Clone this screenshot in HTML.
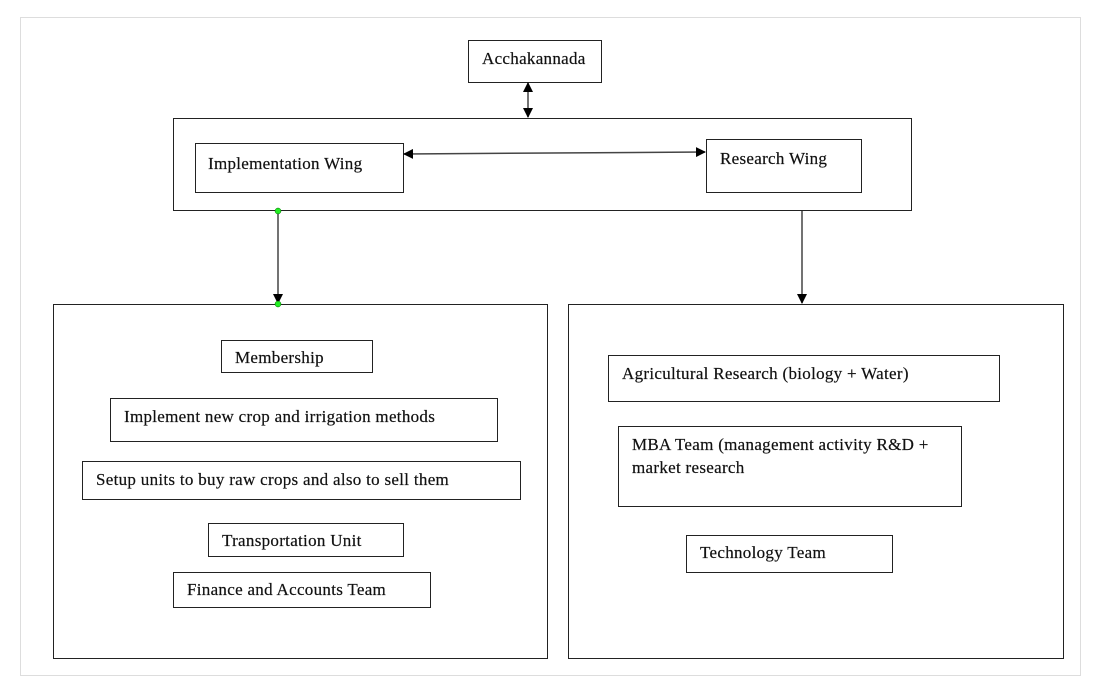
<!DOCTYPE html>
<html><head><style>body{margin:0;background:#fff}svg{display:block}text{font-family:"Liberation Serif",serif;font-size:17px;letter-spacing:0.3px;fill:#111;stroke:#111;stroke-width:0.2px}</style></head><body>
<svg width="1100" height="690" xmlns="http://www.w3.org/2000/svg">
<defs><marker id="a" markerWidth="10" markerHeight="10" refX="9" refY="5" orient="auto-start-reverse" markerUnits="userSpaceOnUse"><path d="M0,0 L10,5 L0,10z" fill="#000"/></marker></defs>
<rect x="20.5" y="17.5" width="1060" height="658" fill="none" stroke="#ddd"/>
<g fill="#fff" stroke="#222" stroke-width="1">
<rect x="468.5" y="40.5" width="133" height="42"/>
<rect x="173.5" y="118.5" width="738" height="92"/>
<rect x="195.5" y="143.5" width="208" height="49"/>
<rect x="706.5" y="139.5" width="155" height="53"/>
<rect x="53.5" y="304.5" width="494" height="354"/>
<rect x="568.5" y="304.5" width="495" height="354"/>
<rect x="221.5" y="340.5" width="151" height="32"/>
<rect x="110.5" y="398.5" width="387" height="43"/>
<rect x="82.5" y="461.5" width="438" height="38"/>
<rect x="208.5" y="523.5" width="195" height="33"/>
<rect x="173.5" y="572.5" width="257" height="35"/>
<rect x="608.5" y="355.5" width="391" height="46"/>
<rect x="618.5" y="426.5" width="343" height="80"/>
<rect x="686.5" y="535.5" width="206" height="37"/>
</g>
<g stroke="#444" stroke-width="1.5" fill="none">
<line x1="528" y1="83" x2="528" y2="117" marker-start="url(#a)" marker-end="url(#a)"/>
<line x1="404" y1="154" x2="705" y2="152" marker-start="url(#a)" marker-end="url(#a)"/>
<line x1="278" y1="211" x2="278" y2="303" marker-end="url(#a)"/>
<line x1="802" y1="211" x2="802" y2="303" marker-end="url(#a)"/>
</g>
<circle cx="278" cy="211" r="3" fill="#2e2" stroke="#060" stroke-width="0.5"/>
<circle cx="278" cy="304" r="3" fill="#2e2" stroke="#060" stroke-width="0.5"/>
<text x="482" y="64">Acchakannada</text>
<text x="208" y="169">Implementation Wing</text>
<text x="720" y="164">Research Wing</text>
<text x="235" y="363">Membership</text>
<text x="124" y="422">Implement new crop and irrigation methods</text>
<text x="96" y="485">Setup units to buy raw crops and also to sell them</text>
<text x="222" y="546">Transportation Unit</text>
<text x="187" y="595">Finance and Accounts Team</text>
<text x="622" y="379">Agricultural Research (biology + Water)</text>
<text x="632" y="450">MBA Team (management activity R&amp;D +</text>
<text x="632" y="473">market research</text>
<text x="700" y="558">Technology Team</text>
</svg>
</body></html>
